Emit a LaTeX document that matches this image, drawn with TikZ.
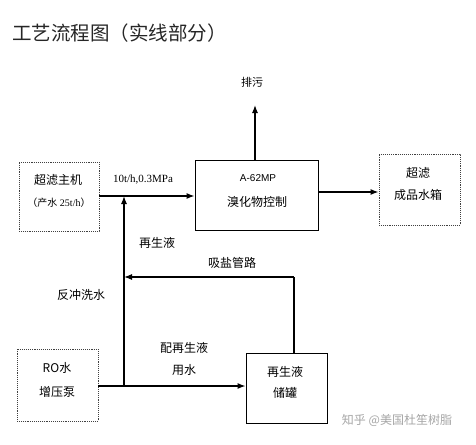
\documentclass[tikz,border=0pt]{standalone}
\usepackage{fontspec}
\setmainfont{Liberation Serif}
\setsansfont{Liberation Sans}
\newfontfamily\cjk{Noto Sans CJK SC}
\usetikzlibrary{arrows.meta}
\begin{document}
\begin{tikzpicture}[x=1pt,y=-1pt,
  arr/.style={line width=1.2pt,-{Latex[length=8pt,width=6pt]}},
  ln/.style={line width=1.2pt},
  solidbox/.style={draw,line width=0.9pt,inner sep=0pt,align=center,font=\cjk\fontsize{12}{17}\selectfont},
  dotbox/.style={draw=black!75,densely dotted,line width=0.9pt,inner sep=0pt,align=center,font=\cjk\fontsize{12}{17}\selectfont},
  lbl/.style={font=\cjk\fontsize{12}{14}\selectfont,inner sep=0pt}]
\useasboundingbox (0,0) rectangle (476,444);
\fill[white] (0,0) rectangle (476,444);
\node[anchor=west,inner sep=0pt,font=\cjk\fontsize{19.5}{22}\selectfont,text=black!85] (title) at (12,33) {工艺流程图（实线部分）};
\node[dotbox,minimum width=80pt,minimum height=69pt] (uf) at (59,196.5) {};
\node[lbl] (uft1) at (58,180) {超滤主机};
\node[inner sep=0pt,font=\fontsize{10}{12}\selectfont] (uft2) at (59,203) {{\cjk （产水} 25t/h{\cjk ）}};
\node[solidbox,minimum width=123pt,minimum height=70pt] (ctl) at (256.5,195) {};
\node[inner sep=0pt,font=\sffamily\fontsize{10}{12}\selectfont] (ctl1) at (258,178) {A-62MP};
\node[lbl] (ctl2) at (257,202) {溴化物控制};
\node[dotbox,minimum width=81pt,minimum height=71pt] (tank1) at (419.5,189.5) {};
\node[lbl] (t1a) at (418,173) {超滤};
\node[lbl] (t1b) at (418,195) {成品水箱};
\node[dotbox,minimum width=81pt,minimum height=72pt] (ro) at (57.5,385) {};
\node[lbl] (roa) at (57,368) {RO水};
\node[lbl] (rob) at (57,392) {增压泵};
\node[solidbox,minimum width=81pt,minimum height=70pt] (reg) at (286.5,388) {};
\node[lbl] (rega) at (285,372) {再生液};
\node[lbl] (regb) at (285,393) {储罐};
% connectors
\coordinate (j1) at (124,386);
\coordinate (j2) at (124,196);
\coordinate (pw) at (255,105);
\coordinate (rt) at (294,353);
\coordinate (rc) at (294,277);
\coordinate (rl) at (124,277);
\draw[arr] (uf.east |- j2) -- (ctl.west |- j2);
\draw[arr] (j1) -- (j2);
\draw[arr] (ro.east |- j1) -- (reg.west |- j1);
\draw[arr] (ctl.north -| pw) -- (pw);
\draw[arr] (ctl.east |- 0,192) -- (tank1.west |- 0,192);
\draw[ln] (rt) -- (rc);
\draw[arr] (rc) -- (rl);
% labels
\node[inner sep=0pt,font=\fontsize{11}{13}\selectfont] (p1) at (143,180) {10t/h,0.3MPa};
\node[lbl,font=\cjk\fontsize{11}{13}\selectfont] (pwl) at (252,82) {排污};
\node[lbl] (l1) at (157,243) {再生液};
\node[lbl] (l2) at (232,263) {吸盐管路};
\node[lbl] (l3) at (81,295) {反冲洗水};
\node[lbl] (l4) at (184,348) {配再生液};
\node[lbl] (l5) at (184,370) {用水};
\node[lbl,text=black!35] (wm) at (397,420) {知乎 @美国杜笙树脂};
\end{tikzpicture}
\end{document}
